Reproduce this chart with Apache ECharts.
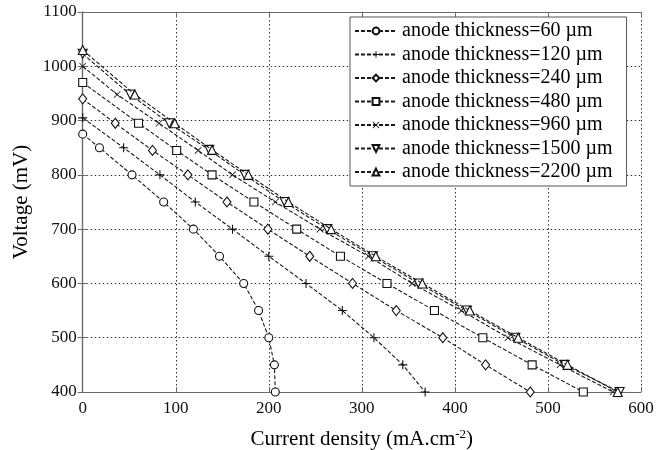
<!DOCTYPE html>
<html>
<head>
<meta charset="utf-8">
<script src="https://cdn.jsdelivr.net/npm/echarts@6/dist/echarts.min.js"></script>
<style>
html,body{margin:0;padding:0;background:#fff;}
#chart{width:661px;height:450px;}
</style>
</head>
<body>
<div id="chart"></div>
<script>
// ---- data ----
const seriesNames = ['anode thickness=60 µm','anode thickness=120 µm','anode thickness=240 µm','anode thickness=480 µm','anode thickness=960 µm','anode thickness=1500 µm','anode thickness=2200 µm'];
const i60   = [0, 18, 53, 87, 119, 147, 173, 189, 200, 206, 207];
const v60   = [875, 850, 800, 750, 700, 650, 600, 550, 500, 450, 400];
const i120  = [0, 44, 83, 121, 161, 200, 240, 279, 313, 344, 368];
const v120  = [905, 850, 800, 750, 700, 650, 600, 550, 500, 450, 400];
const i240  = [0, 35, 75, 113, 155, 199, 244, 290, 337, 387, 433, 481];
const v240  = [940, 895, 845, 800, 750, 700, 650, 600, 550, 500, 450, 400];
const i480  = [0, 60, 101, 139, 184, 230, 277, 327, 378, 430, 483, 538];
const v480  = [970, 895, 845, 800, 750, 700, 650, 600, 550, 500, 450, 400];
const i960  = [0, 37, 82, 124, 161, 207, 255, 307, 354, 407, 457, 513, 570];
const v960  = [1000, 948, 895, 845, 800, 750, 700, 650, 600, 550, 500, 450, 400];
const i1500 = [0, 51, 93, 136, 174, 217, 263, 312, 361, 413, 465, 518, 577];
const v1500 = [1023, 948, 895, 846, 800, 750, 700, 650, 600, 550, 500, 450, 400];
const i2200 = [0, 56, 99, 139, 178, 221, 267, 315, 365, 416, 468, 521, 575];
const v2200 = [1030, 948, 895, 846, 800, 750, 700, 650, 600, 550, 500, 450, 400];
const xTicks = [0, 100, 200, 300, 400, 500, 600];
const yTicks = [400, 500, 600, 700, 800, 900, 1000, 1100];

// ---- build ----
const pairs = (xs, ys) => xs.map((x, k) => [x, ys[k]]);
const dataSets = [pairs(i60,v60), pairs(i120,v120), pairs(i240,v240), pairs(i480,v480), pairs(i960,v960), pairs(i1500,v1500), pairs(i2200,v2200)];

const PLUS = 'path://M4.4,0H5.6V10H4.4ZM0,4.4H10V5.6H0Z';
const CROSS = 'path://M0.8,0L5,4.2L9.2,0L10,0.8L5.8,5L10,9.2L9.2,10L5,5.8L0.8,10L0,9.2L4.2,5L0,0.8Z';
const symbols = [
  {symbol:'circle', size:8, filled:false, rot:0},
  {symbol:PLUS, size:9, filled:true, rot:0},
  {symbol:'diamond', size:[8,10], filled:false, rot:0},
  {symbol:'rect', size:8, filled:false, rot:0},
  {symbol:CROSS, size:7, filled:true, rot:0},
  {symbol:'triangle', size:9, filled:false, rot:180},
  {symbol:'triangle', size:9, filled:false, rot:0}
];

const FONT = '"Liberation Serif", "Times New Roman", serif';

const series = dataSets.map((d, k) => ({
  name: seriesNames[k],
  type: 'line',
  data: d,
  symbol: symbols[k].symbol,
  symbolSize: symbols[k].size,
  symbolRotate: symbols[k].rot,
  showAllSymbol: true,
  animation: false,
  lineStyle: {color:'#1a1a1a', width:1.1, type:[4,2]},
  itemStyle: symbols[k].filled
    ? {color:'#111', borderWidth:0}
    : {color:'#fff', borderColor:'#111', borderWidth:1.1},
  emphasis: {disabled:true},
  z: 3 + k
}));

const chart = echarts.init(document.getElementById('chart'), null, {renderer:'canvas'});
const axisLine = {show:true, lineStyle:{color:'#6a6a6a', width:1.2}};
chart.setOption({
  backgroundColor:'#fff',
  animation:false,
  grid:{left:82.7, right:20, top:12, bottom:58, containLabel:false, outerBoundsMode:'none'},
  legend:{
    data: seriesNames,
    orient:'vertical',
    left:350, top:17,
    width:286,
    backgroundColor:'#fff',
    borderColor:'#555', borderWidth:1,
    padding:[4,14,4,4],
    itemGap:3.5,
    itemWidth:42, itemHeight:8.5,
    textStyle:{fontFamily:FONT, fontSize:20, color:'#000', lineHeight:20},
    selectedMode:false
  },
  xAxis:[{
    type:'value', min:xTicks[0], max:xTicks[xTicks.length-1], interval:100,
    name:'Current density (mA.cm{sup|-2})',
    nameLocation:'middle', nameGap:36,
    nameTextStyle:{fontFamily:FONT, fontSize:21, color:'#000',
      rich:{sup:{fontFamily:FONT, fontSize:13, color:'#000', verticalAlign:'top', padding:[0,0,10,0]}}},
    axisLine: axisLine,
    axisTick:{show:true, inside:true, length:5, lineStyle:{color:'#6a6a6a'}},
    axisLabel:{fontFamily:FONT, fontSize:17, color:'#111', margin:8, formatter: v => String(v)},
    splitLine:{show:true, lineStyle:{color:'#333', width:1, type:[1.5,2.5]}}
  },{
    type:'value', position:'top', min:xTicks[0], max:xTicks[xTicks.length-1], interval:100,
    axisLine: axisLine,
    axisTick:{show:true, inside:true, length:5, lineStyle:{color:'#6a6a6a'}},
    axisLabel:{show:false}, splitLine:{show:false}
  }],
  yAxis:[{
    type:'value', min:yTicks[0], max:yTicks[yTicks.length-1], interval:100,
    name:'Voltage (mV)',
    nameLocation:'middle', nameGap:46, nameRotate:90,
    nameTextStyle:{fontFamily:FONT, fontSize:21, color:'#000'},
    axisLine: axisLine,
    axisTick:{show:true, inside:true, length:5, lineStyle:{color:'#6a6a6a'}},
    axisLabel:{fontFamily:FONT, fontSize:17, color:'#111', margin:6, formatter: v => String(v)},
    splitLine:{show:true, lineStyle:{color:'#333', width:1, type:[1.5,2.5]}}
  },{
    type:'value', position:'right', min:yTicks[0], max:yTicks[yTicks.length-1], interval:100,
    axisLine: axisLine,
    axisTick:{show:true, inside:true, length:5, lineStyle:{color:'#6a6a6a'}},
    axisLabel:{show:false}, splitLine:{show:false}
  }],
  series: series
});
</script>
</body>
</html>
